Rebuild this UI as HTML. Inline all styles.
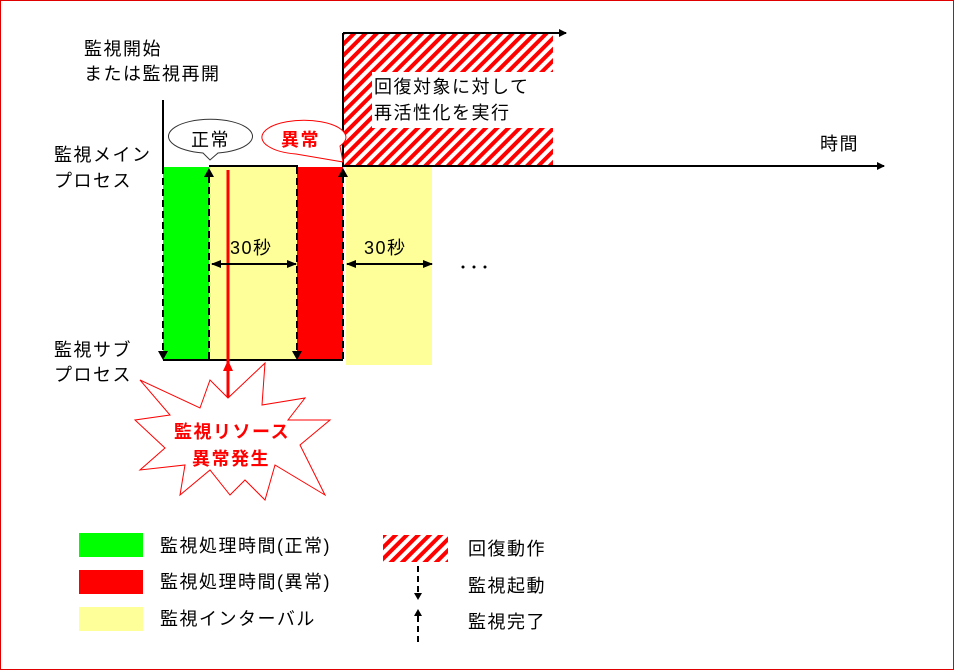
<!DOCTYPE html>
<html><head><meta charset="utf-8"><style>
html,body{margin:0;padding:0;background:#fff}
svg{display:block}
text{font-family:"Liberation Sans","Noto Sans CJK JP",sans-serif;font-size:18px;letter-spacing:1.5px;fill:#000}
</style></head><body>
<svg width="954" height="670" viewBox="0 0 954 670" xmlns="http://www.w3.org/2000/svg">
<defs>
<pattern id="h" patternUnits="userSpaceOnUse" width="8" height="8" patternTransform="rotate(45)">
<rect width="8" height="8" fill="#fff"/><rect width="4" height="8" fill="#f00"/>
</pattern>
<marker id="a" markerWidth="8" markerHeight="8" refX="7" refY="4" orient="auto" markerUnits="userSpaceOnUse"><path d="M0,0 L8,4 L0,8z" fill="#000"/></marker>
<marker id="as" markerWidth="10" markerHeight="8" refX="9" refY="4" orient="auto-start-reverse" markerUnits="userSpaceOnUse"><path d="M0,0 L10,4 L0,8z" fill="#000"/></marker>
</defs>
<rect x="0.5" y="0.5" width="953" height="669" fill="none" stroke="#e00000"/>

<rect x="343" y="34" width="210" height="132" fill="url(#h)"/>
<rect x="372" y="72" width="181" height="56" fill="#fff"/>
<text x="374" y="93">回復対象に対して</text>
<text x="374" y="119">再活性化を実行</text>
<line x1="343" y1="33" x2="566" y2="33" stroke="#000" stroke-width="2" marker-end="url(#a)"/>
<line x1="343" y1="33" x2="343" y2="167" stroke="#000" stroke-width="2"/>

<rect x="163" y="167" width="46" height="193" fill="#00ff00"/>
<rect x="209" y="167" width="88" height="193" fill="#ffff99"/>
<rect x="297" y="167" width="46" height="193" fill="#ff0000"/>
<rect x="346" y="167" width="86" height="198" fill="#ffff99"/>

<line x1="163" y1="100" x2="163" y2="167" stroke="#000" stroke-width="2"/>
<line x1="209" y1="166" x2="298" y2="166" stroke="#000" stroke-width="2"/>
<line x1="343" y1="166" x2="884" y2="166" stroke="#000" stroke-width="2" marker-end="url(#a)"/>
<line x1="163" y1="360" x2="343" y2="360" stroke="#000" stroke-width="2"/>

<g stroke="#000" stroke-width="2" stroke-dasharray="7,4">
<line x1="163" y1="167" x2="163" y2="352"/>
<line x1="209" y1="176" x2="209" y2="360"/>
<line x1="297" y1="167" x2="297" y2="352"/>
<line x1="343" y1="176" x2="343" y2="360"/>
</g>
<path d="M158,351 L168,351 L163,360z M204,177 L214,177 L209,168z M292,351 L302,351 L297,360z M338,177 L348,177 L343,168z" fill="#000"/>

<line x1="228" y1="170" x2="228" y2="400" stroke="#f00" stroke-width="3"/>
<path d="M223,371 L233,371 L228,360z" fill="#f00"/>

<line x1="212" y1="264" x2="296" y2="264" stroke="#000" stroke-width="2" marker-start="url(#as)" marker-end="url(#as)"/>
<line x1="347" y1="264" x2="432" y2="264" stroke="#000" stroke-width="2" marker-start="url(#as)" marker-end="url(#as)"/>
<text x="230" y="254">30秒</text>
<text x="364" y="254">30秒</text>
<circle cx="463" cy="267" r="1.5" fill="#000"/>
<circle cx="474" cy="267" r="1.5" fill="#000"/>
<circle cx="485" cy="267" r="1.5" fill="#000"/>

<path d="M203,153 A42,17 0 1 1 218,153 L210,160z" fill="#fff" stroke="#333" stroke-width="1"/>
<text x="191" y="146">正常</text>
<path d="M296,154 A42,17 0 1 1 340,146 L343,162z" fill="#fff" stroke="#f00" stroke-width="1"/>
<text x="281" y="146" style="fill:#f00;font-weight:bold">異常</text>

<text x="84" y="55">監視開始</text>
<text x="84" y="80">または監視再開</text>
<text x="54" y="161">監視メイン</text>
<text x="54" y="187">プロセス</text>
<text x="54" y="356">監視サブ</text>
<text x="54" y="381">プロセス</text>
<text x="820" y="150">時間</text>

<polygon points="140,380 200,408 210,380 228,398 265,363 262,405 305,398 288,420 330,420 300,445 325,495 275,465 265,500 245,480 230,495 210,470 180,495 185,465 140,470 165,448 135,420 170,415" fill="#fff" stroke="#f00" stroke-width="1"/>
<text x="174" y="438" style="fill:#f00;font-weight:bold">監視リソース</text>
<text x="192" y="465" style="fill:#f00;font-weight:bold">異常発生</text>

<rect x="79" y="533" width="64" height="24" fill="#00ff00"/>
<rect x="79" y="570" width="64" height="24" fill="#ff0000"/>
<rect x="79" y="607" width="64" height="24" fill="#ffff99"/>
<text x="160" y="552">監視処理時間(正常)</text>
<text x="160" y="588">監視処理時間(異常)</text>
<text x="160" y="625">監視インターバル</text>
<rect x="383" y="535" width="65" height="27" fill="url(#h)"/>
<text x="468" y="555">回復動作</text>
<text x="468" y="592">監視起動</text>
<text x="468" y="628">監視完了</text>
<g stroke="#000" stroke-width="2" stroke-dasharray="6,4">
<line x1="418" y1="566" x2="418" y2="594"/>
<line x1="418" y1="616" x2="418" y2="642"/>
</g>
<path d="M414,593 L422,593 L418,600z M414,616 L422,616 L418,609z" fill="#000"/>
</svg>
</body></html>
